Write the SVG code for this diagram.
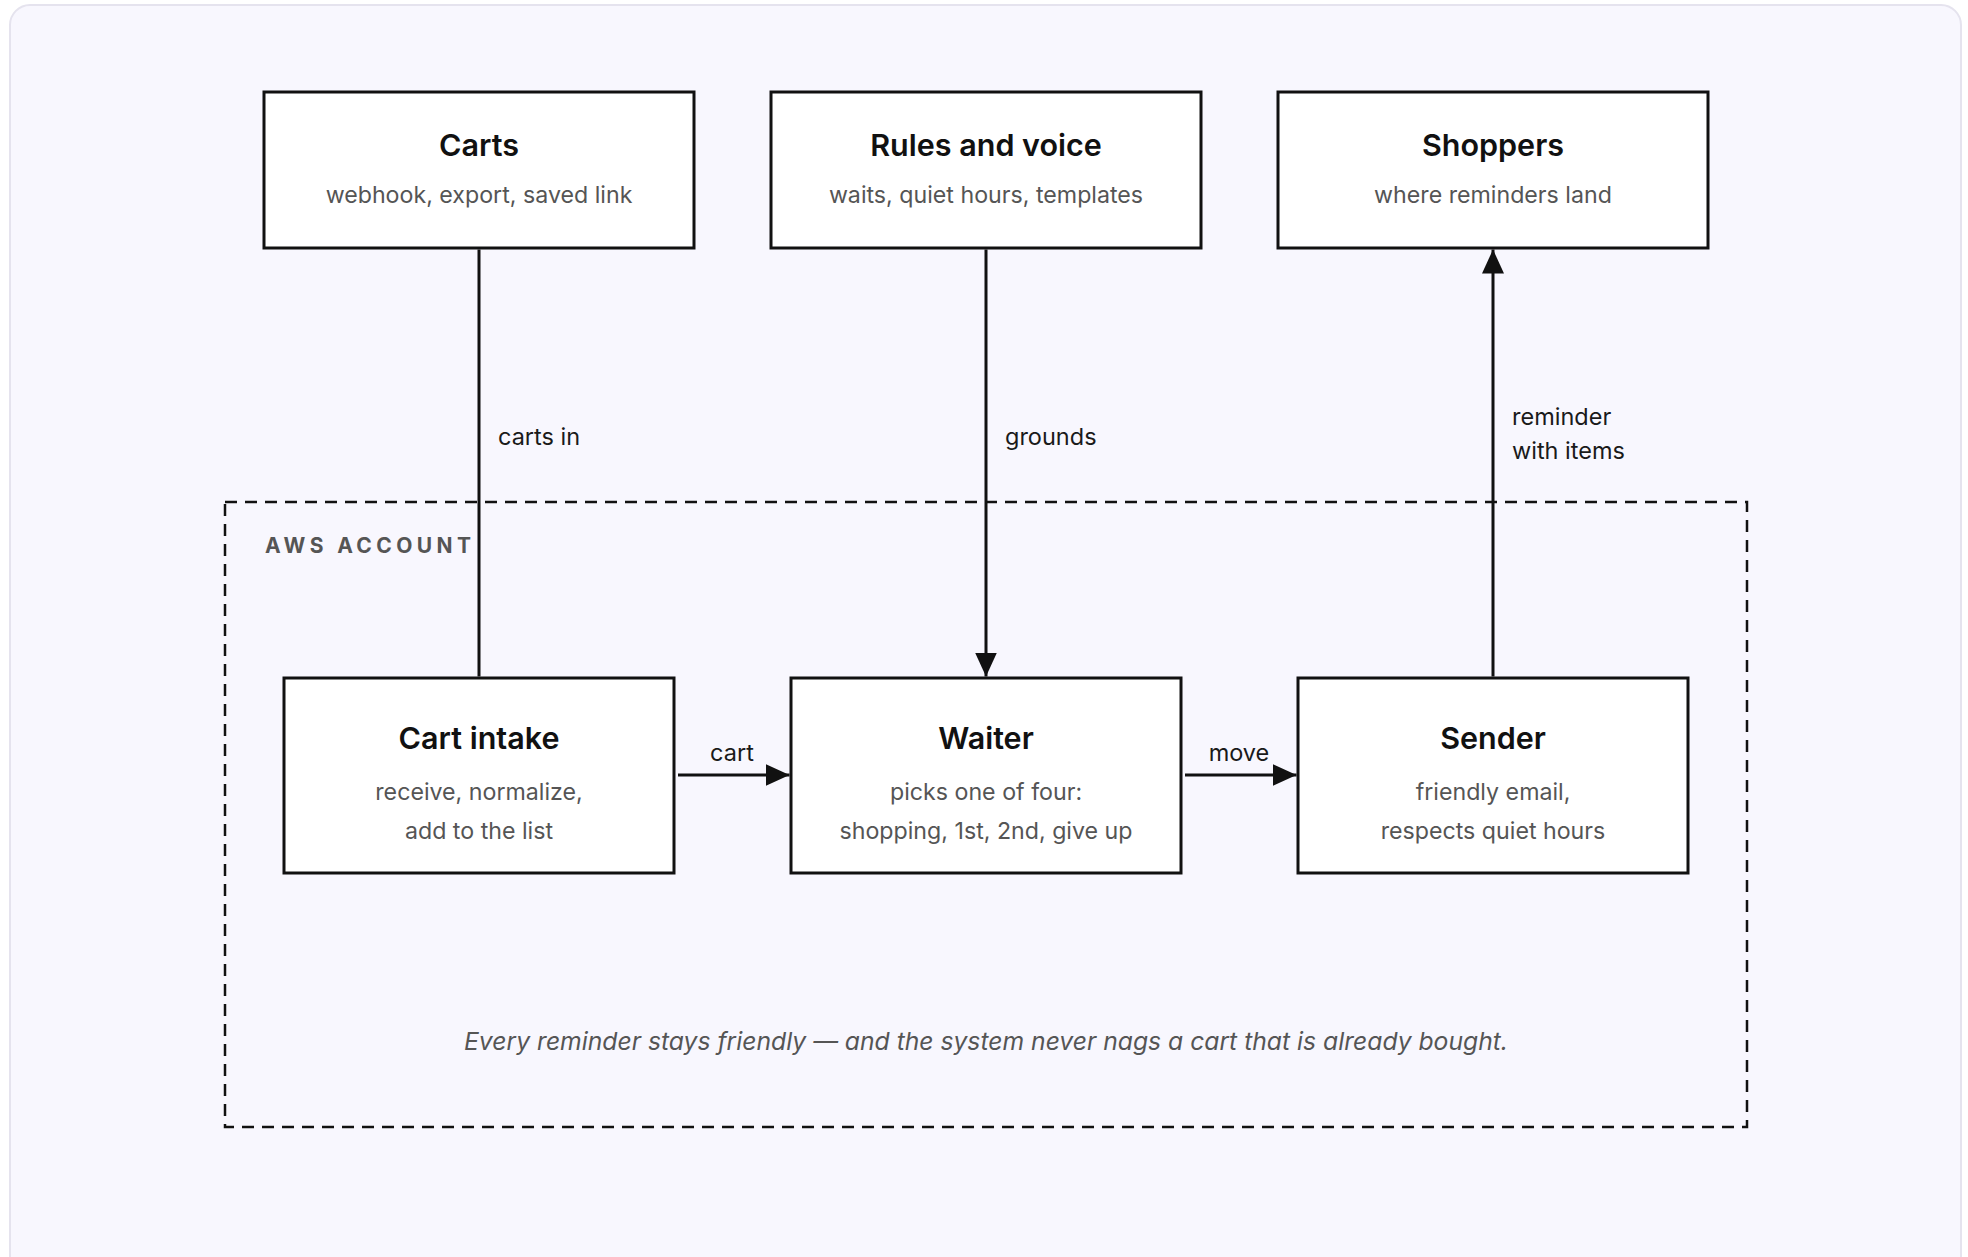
<svg xmlns="http://www.w3.org/2000/svg" width="1968" height="1257" viewBox="0 0 1968 1257">
  <defs>
    <marker id="arrow" viewBox="0 0 24 22" refX="24" refY="11" markerWidth="24" markerHeight="22" markerUnits="userSpaceOnUse" orient="auto">
      <path d="M0,0 L24,11 L0,22 Z" fill="#111"/>
    </marker>
    <style>
      .box { fill: #ffffff; stroke: #111111; stroke-width: 3; }
      .title { font-family: Inter, "Noto Sans", sans-serif; font-size: 30.5px; font-weight: 600; fill: #111111; text-anchor: middle; }
      .sub { font-family: Inter, "Noto Sans", sans-serif; font-size: 23.2px; fill: #555555; text-anchor: middle; }
      .edge { fill: none; stroke: #111111; stroke-width: 3; }
      .elabel { font-family: Inter, "Noto Sans", sans-serif; font-size: 23.5px; fill: #1a1a1a; }
      .group { fill: none; stroke: #111111; stroke-width: 2.5; stroke-dasharray: 12 8; }
      .glabel { font-family: Inter, "Noto Sans", sans-serif; font-size: 21px; font-weight: 700; fill: #555555; letter-spacing: 4.4px; }
      .note { font-family: Inter, "Noto Sans", sans-serif; font-size: 24.7px; font-style: italic; fill: #555555; text-anchor: middle; }
    </style>
  </defs>
  <rect x="0" y="0" width="1968" height="1257" fill="#ffffff"/>
  <rect x="10" y="5" width="1951" height="1300" rx="20" fill="#f8f7fe" stroke="#e5e3ee" stroke-width="2"/>

  <g id="aws-account">
    <rect class="group" x="225" y="502" width="1522" height="625"/>
    <text class="glabel" x="265" y="553">AWS ACCOUNT</text>
    <text class="note" x="986" y="1049.5">Every reminder stays friendly — and the system never nags a cart that is already bought.</text>
  </g>

  <g id="connectors">
    <line class="edge" x1="479" y1="249.5" x2="479" y2="676.5"/>
    <text class="elabel" x="498" y="444.5">carts in</text>
    <line class="edge" x1="986" y1="249.5" x2="986" y2="676.5" marker-end="url(#arrow)"/>
    <text class="elabel" x="1005" y="444.5">grounds</text>
    <line class="edge" x1="1493" y1="676.5" x2="1493" y2="249.5" marker-end="url(#arrow)"/>
    <text class="elabel" x="1512" y="424.5">reminder</text>
    <text class="elabel" x="1512" y="458.5">with items</text>
    <line class="edge" x1="678" y1="775" x2="789.5" y2="775" marker-end="url(#arrow)"/>
    <text class="elabel" x="732" y="760.5" text-anchor="middle">cart</text>
    <line class="edge" x1="1185" y1="775" x2="1296.5" y2="775" marker-end="url(#arrow)"/>
    <text class="elabel" x="1239" y="760.5" text-anchor="middle">move</text>
  </g>

  <g id="carts">
    <rect class="box" x="264" y="92" width="430" height="156"/>
    <text class="title" x="479" y="155.5">Carts</text>
    <text class="sub" x="479" y="202.5">webhook, export, saved link</text>
  </g>
  <g id="rules-and-voice">
    <rect class="box" x="771" y="92" width="430" height="156"/>
    <text class="title" x="986" y="155.5">Rules and voice</text>
    <text class="sub" x="986" y="202.5">waits, quiet hours, templates</text>
  </g>
  <g id="shoppers">
    <rect class="box" x="1278" y="92" width="430" height="156"/>
    <text class="title" x="1493" y="155.5">Shoppers</text>
    <text class="sub" x="1493" y="202.5">where reminders land</text>
  </g>
  <g id="cart-intake">
    <rect class="box" x="284" y="678" width="390" height="195"/>
    <text class="title" x="479" y="748.5">Cart intake</text>
    <text class="sub" x="479" y="799.5">receive, normalize,</text>
    <text class="sub" x="479" y="838.5">add to the list</text>
  </g>
  <g id="waiter">
    <rect class="box" x="791" y="678" width="390" height="195"/>
    <text class="title" x="986" y="748.5">Waiter</text>
    <text class="sub" x="986" y="799.5">picks one of four:</text>
    <text class="sub" x="986" y="838.5">shopping, 1st, 2nd, give up</text>
  </g>
  <g id="sender">
    <rect class="box" x="1298" y="678" width="390" height="195"/>
    <text class="title" x="1493" y="748.5">Sender</text>
    <text class="sub" x="1493" y="799.5">friendly email,</text>
    <text class="sub" x="1493" y="838.5">respects quiet hours</text>
  </g>
</svg>
